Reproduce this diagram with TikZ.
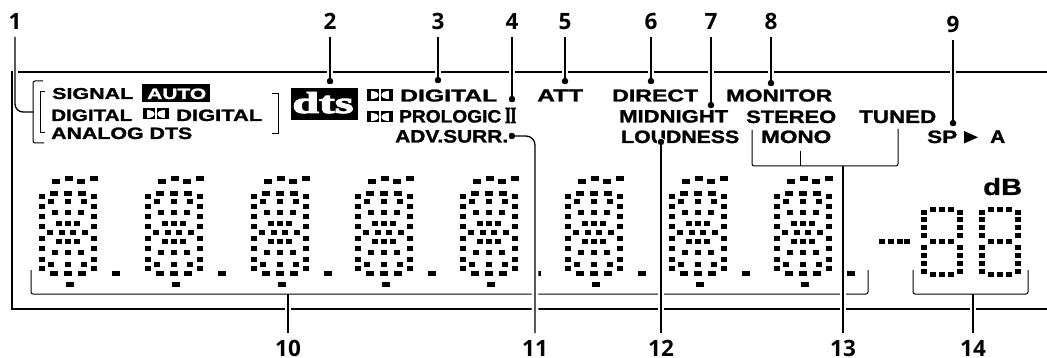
\documentclass[tikz,border=0pt]{standalone}
\usepackage{graphicx}
\usepackage{fontspec}
\setmainfont{Liberation Sans}
\newfontfamily\numfont{Open Sans}
\newfontfamily\heavyfont{Liberation Sans Bold}[FakeBold=1.3]
\newfontfamily\heavydb{Liberation Sans Bold}[FakeBold=0.6]
\newfontfamily\serffont{Liberation Serif Bold}[FakeBold=3]
\tikzset{
  num/.style={font=\numfont\bfseries\fontsize{22.5}{22.5}\selectfont,inner sep=0pt},
  dtext/.style={font=\heavyfont,inner sep=0pt,anchor=base west},
  frameline/.style={line width=2.6pt},
  leader/.style={line width=1.3pt},
  halo/.style={preaction={draw=white,line width=6.6pt}},
  brk/.style={line width=1pt,rounded corners=2pt},
  pin/.style={circle,fill=black,inner sep=0pt,minimum size=6.4pt},
}
% name, x0, x1, baseline, cap height, text
\newcommand{\dtxt}[6]{%
  \pgfmathsetmacro{\dtw}{#3-#2}%
  \node[dtext] (#1) at (#2,#4) {\resizebox{\dtw pt}{#5pt}{#6}};}
% Double-D mark: x, y, w, h
\newcommand{\ddmark}[4]{%
  \begin{scope}[shift={(#1,#2)},xscale=#3,yscale=#4]
    \fill (0,0) rectangle (.46,1);
    \fill (.54,0) rectangle (1,1);
    \fill[white] (.14,.17) .. controls (.52,.17) and (.52,.83) .. (.14,.83) -- cycle;
    \fill[white] (.86,.17) .. controls (.48,.17) and (.48,.83) .. (.86,.83) -- cycle;
  \end{scope}}
\newcommand{\wcell}[2]{\fill (#1-4,#2-2.4) rectangle ++(8,4.8);}
\newcommand{\ncell}[2]{\fill (#1-2.9,#2-2.3) rectangle ++(5.8,4.6);}
\begin{document}
\begin{tikzpicture}[x=1pt,y=-1pt]
\useasboundingbox (0,0) rectangle (1047,358);
% display legends
\dtxt{signal}{52}{133}{99}{11}{SIGNAL}
\fill (142,84) rectangle (210,102);
\node[dtext,text=white] (auto) at (147,99) {\resizebox{59pt}{10.5pt}{AUTO}};
\dtxt{digA}{51}{132}{121}{11.5}{DIGITAL}
\ddmark{143}{108}{26}{11.5}
\dtxt{digB}{176}{262}{121}{11.5}{DIGITAL}
\dtxt{analog}{51}{192}{139}{11.5}{ANALOG DTS}
\node[fill=black,minimum width=67pt,minimum height=32.5pt,inner sep=0pt] (dts) at (324.5,104.2) {};
\node[text=white,font=\serffont,inner sep=0pt,anchor=base] (dtst) at (323,113) {\resizebox{61pt}{21pt}{dts}};
\ddmark{367}{89}{26}{12}
\dtxt{digC}{400}{497}{101.5}{12}{DIGITAL}
\ddmark{367}{111}{26}{11.5}
\dtxt{prologic}{399}{501}{122.5}{12.5}{PROLOGIC}
\node[font=\serffont,inner sep=0pt,anchor=base west] (two) at (505,123) {\resizebox{11pt}{15pt}{II}};
\dtxt{adv}{395}{508}{142.5}{12.5}{ADV.SURR.}
\dtxt{att}{537}{583}{101.5}{12}{ATT}
\dtxt{direct}{612}{698}{101.5}{12}{DIRECT}
\dtxt{midnight}{619}{728}{122.5}{12.5}{MIDNIGHT}
\dtxt{loudness}{621}{739}{143}{12.5}{LOUDNESS}
\dtxt{monitor}{726}{832}{101.5}{12}{MONITOR}
\dtxt{stereo}{746}{836}{123}{12.5}{STEREO}
\dtxt{tuned}{859}{936}{123}{12.5}{TUNED}
\dtxt{mono}{761}{831}{143}{12.5}{MONO}
\dtxt{sp}{927}{957}{143}{12.5}{SP}
\fill (964,131) -- (978,137.3) -- (964,143.5) -- cycle;
\dtxt{a}{990}{1005}{143}{12.5}{A}
\node[font=\heavydb,inner sep=0pt,anchor=base west] (db) at (983,195) {\resizebox{39pt}{17pt}{dB}};
% dot-matrix digits
\foreach \dx in {0,106,212,316,421,526,630,735}{
\begin{scope}[shift={(\dx,0)}]
  \foreach \p/\q in {56/181.3,69/178.3,81/181.3,94/178.3,54/193.3,68/193.3,82/193.3,54/273.3,68/273.3,82/273.3,70/284.3,116/273.3}{\wcell{\p}{\q}}
  \foreach \q in {196.3,206.3,216.3,226.3,238.3,248.3,259.3,268.3}{\ncell{42}{\q}\ncell{94}{\q}}
  \foreach \p/\q in {51/201.3,68/201.3,84/201.3,55/212.3,68/212.3,81/212.3,59/223.3,68/223.3,77/223.3,50/232.3,62/232.3,73/232.3,85/232.3,59/241.3,68/241.3,77/241.3,55/252.3,68/252.3,81/252.3,51/264.3,68/264.3,84/264.3}{\ncell{\p}{\q}}
\end{scope}}
% dB digits
\foreach \p in {882,891,900,907}{\ncell{\p}{241.3}}
\foreach \dx in {0,58}{
\begin{scope}[shift={(\dx,0)}]
  \foreach \q in {212.3,219.3,227.3,235.3,247.3,255.3,263.3,271.3}{\ncell{924}{\q}\ncell{960}{\q}}
  \foreach \p in {933,942,951}{\ncell{\p}{209.3}\ncell{\p}{241.3}\ncell{\p}{274.3}}
\end{scope}}
% frame
\draw[frameline] (18,72) -- (1047,72);
\draw[frameline] (12,71) -- (12,309) -- (1047,309);
% number labels
\node[num,anchor=south] (n1) at (15,30) {1};
\node[num,anchor=south] (n2) at (330,30) {2};
\node[num,anchor=south] (n3) at (438,30) {3};
\node[num,anchor=south] (n4) at (512,30) {4};
\node[num,anchor=south] (n5) at (565,30) {5};
\node[num,anchor=south] (n6) at (651,30) {6};
\node[num,anchor=south] (n7) at (711,30) {7};
\node[num,anchor=south] (n8) at (771,30) {8};
\node[num,anchor=south] (n9) at (953,33) {9};
\node[num,anchor=north] (n10) at (288,340) {10};
\node[num,anchor=north] (n11) at (535,340) {11};
\node[num,anchor=north] (n12) at (661,340) {12};
\node[num,anchor=north] (n13) at (843,340) {13};
\node[num,anchor=north] (n14) at (973,340) {14};
% pins
\node[pin] (d2) at (330,81) {};
\node[pin] (d3) at (438,80) {};
\node[pin] (d4) at (512,99) {};
\node[pin] (d5) at (565,81) {};
\node[pin] (d6) at (651,81) {};
\node[pin] (d7) at (711,105) {};
\node[pin] (d8) at (771,83) {};
\node[pin] (d9) at (953,123) {};
\node[pin] (d11) at (512,136) {};
\node[pin,draw=white,line width=1pt,minimum size=7.4pt] (d12) at (661,142) {};
% junction points on the brackets
\coordinate (j1) at (33,112);
\coordinate (j10) at (288,294);
\coordinate (j13) at (843,166);
\coordinate (j14) at (973,294);
% leaders to the lower brackets (the brackets go on top)
\draw[leader,halo,shorten <=7pt] (n10.north) -- (j10);
\draw[leader,halo,shorten <=7pt] (n14.north) -- (j14);
% brackets
\draw[brk] (43,81) -- (33,81) -- (33,143) -- (44,143);
\draw[line width=1pt] (45,92) -- (40,92) -- (40,133) -- (45,133);
\draw[line width=1pt] (272,94) -- (278,94) -- (278,134) -- (272,134);
\draw[brk] (31,270) -- (31,294) -- (868,294) -- (868,270);
\draw[brk] (913,270) -- (913,294) -- (1028,294) -- (1028,270);
% leaders
\draw[leader,rounded corners=8pt,shorten <=7pt] (n1.south) |- (j1);
\foreach \k in {2,3,4,5,6,7,8,9}{\draw[leader,halo,shorten <=7pt] (n\k.south) -- (d\k.center);}
\draw[leader,halo,rounded corners=9pt,shorten >=7pt] (d11.center) -| (n11.north);
\draw[leader,halo,shorten >=7pt] (d12.center) -- (n12.north);
\draw[leader,halo,shorten >=7pt] (j13) -- (n13.north);
\draw[brk] (752,130) -- (752,166) -- (898,166) -- (898,129);
\coordinate (t13) at (800,151);
\draw[line width=1pt] (t13) -- (800,166);
% redraw pins over their leader halos
\foreach \k in {2,3,4,5,6,7,8,9,11,12}{\fill (d\k) circle (3.2);}
\end{tikzpicture}
\end{document}
